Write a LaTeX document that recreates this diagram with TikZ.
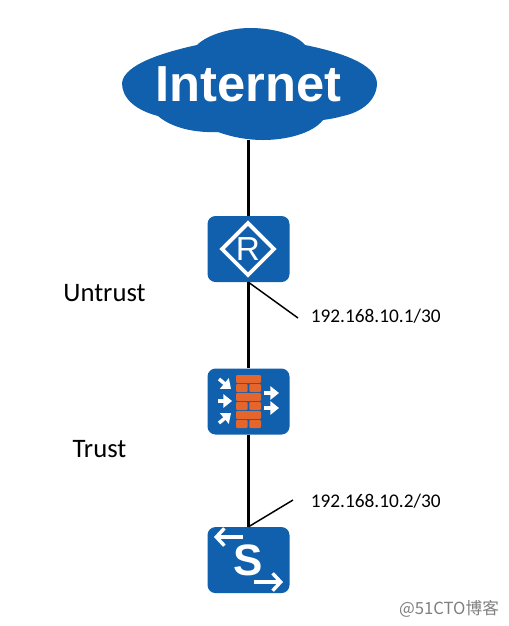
\documentclass[tikz,border=0pt]{standalone}
\usepackage{fontspec}
\setmainfont{Carlito}
\setsansfont{Liberation Sans}
\newfontfamily\cjkfont{Noto Sans CJK SC}
\usetikzlibrary{arrows.meta,positioning,shapes.geometric}
\definecolor{netblue}{HTML}{1060AD}
\definecolor{netorange}{HTML}{E4662C}
\tikzset{
  net/device/.style={draw=none, fill=netblue, rounded corners=6pt, minimum width=61.5pt, minimum height=49.5pt, inner sep=0pt},
  net/cloud/.style={inner sep=0pt, minimum width=191pt, minimum height=84pt, text=white, font=\sffamily\bfseries\fontsize{38}{38}\selectfont},
  net/link/.style={line width=2.2pt},
  net/leader/.style={line width=1.1pt},
  net/label/.style={inner sep=0pt, font=\fontsize{20}{22}\selectfont},
  net/addr/.style={inner sep=0pt, anchor=west, font=\fontsize{14.5}{17}\selectfont},
  net/arrow/.style={draw=white, line width=2.6pt, -{Triangle[length=6.5pt,width=10pt]}},
  net/swarrow/.style={draw=white, line width=2.6pt, -{Straight Barb[length=6pt,width=13pt,line width=2.6pt]}},
  net/brick/.style={fill=netorange, rounded corners=0.8pt}
}

\begin{document}
\begin{tikzpicture}[x=0.75pt, y=-0.75pt]
  \useasboundingbox (0,0) rectangle (508,626);
  \fill[white] (0,0) rectangle (508,626);

  % cloud outline
  \fill[netblue] (122,83)
    .. controls (124,64) and (165,52) .. (197,45)
    .. controls (208,34) and (232,28) .. (250,28)
    .. controls (272,28) and (296,34) .. (305,45)
    .. controls (340,52) and (376,64) .. (377,83)
    .. controls (377,100) and (362,112) .. (343,116)
    .. controls (336,118) and (330,119) .. (323,120)
    .. controls (312,134) and (285,140) .. (263,140)
    .. controls (247,140) and (232,137) .. (218,132)
    .. controls (195,133) and (172,128) .. (158,116)
    .. controls (135,110) and (122,98) .. (122,83) -- cycle;
  \node[net/cloud] (cloud) at (248.5,84) {Internet};

  \node[net/device] (router) at (248.5,249) {};
  \node[net/device, below=64.5pt of router] (fw) {};
  \node[net/device, below=69pt of fw] (switch) {};

  \coordinate (upaddr) at (298,318);
  \coordinate (downaddr) at (293,500);

  \draw[net/link] (cloud.south)--(router.north);
  \draw[net/link] (router.south)--(fw.north);
  \draw[net/link] (fw.south)--(switch.north);
  \draw[net/leader] (router.south)--(upaddr);
  \draw[net/leader] (switch.north)--(downaddr);

  \node[net/addr] (upip) at (310.5,316) {192.168.10.1/30};
  \node[net/addr] (downip) at (310.5,501) {192.168.10.2/30};
  \node[net/label] (untrust) at (104.5,293) {Untrust};
  \node[net/label] (trust) at (99.5,449) {Trust};

  % router icon
  \node[draw=white, line width=2.8pt, diamond, aspect=1, minimum size=40pt, inner sep=0pt] (rmark) at (248,249) {};
  \node[text=white, inner sep=0pt, font=\sffamily\fontsize{25}{25}\selectfont] (rletter) at (rmark) {R};

  % firewall icon
  \foreach \y/\split in {375/0,384/1,393/0,402/1,411/0,420/1}{
    \ifnum\split=0
      \fill[net/brick] (236,\y) rectangle (261,\y+8);
    \else
      \fill[net/brick] (236,\y) rectangle (247.6,\y+8);
      \fill[net/brick] (249.4,\y) rectangle (261,\y+8);
    \fi
  }
  \draw[net/arrow] (219,379)--(231,389);
  \draw[net/arrow] (218,401)--(232,401);
  \draw[net/arrow] (219,423)--(231,413);
  \draw[net/arrow] (264,393)--(279,393);
  \draw[net/arrow] (264,408)--(279,408);

  % switch icon
  \draw[net/swarrow] (243,537)--(214,537);
  \draw[net/swarrow] (254,582)--(283,582);
  \node[text=white, inner sep=0pt, font=\sffamily\bfseries\fontsize{33}{33}\selectfont] (sletter) at (248,560) {S};

  \node[inner sep=0pt, text=black!50, font=\cjkfont\fontsize{12.5}{14}\selectfont] (mark) at (449,609) {@51CTO博客};
\end{tikzpicture}
\end{document}
